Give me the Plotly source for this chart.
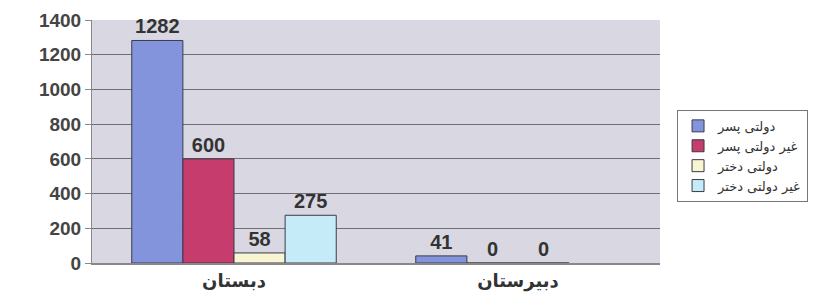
import plotly.graph_objects as go

categories = ["دبستان", "دبیرستان"]
series_names = ["دولتی پسر", "غیر دولتی پسر", "دولتی دختر", "غیر دولتی دختر"]
dolati_pesar = [1282, 41]
gheir_dolati_pesar = [600, 0]
dolati_dokhtar = [58, 0]
gheir_dolati_dokhtar = [275, None]
y_ticks = [0, 200, 400, 600, 800, 1000, 1200, 1400]

colors = ["#8394dc", "#c63c6c", "#f7f5d2", "#c6ebf8"]
values = [dolati_pesar, gheir_dolati_pesar, dolati_dokhtar, gheir_dolati_dokhtar]

fig = go.Figure()
for name, vals, col in zip(series_names, values, colors):
    fig.add_trace(go.Bar(
        x=categories, y=vals, name=name,
        marker=dict(color=col, line=dict(color="#3a3a4a", width=1)),
        text=[("" if v is None else str(v)) for v in vals],
        textposition="outside",
        textfont=dict(family="Liberation Sans", size=20, color="#333333", weight="bold"),
        cliponaxis=False,
    ))

fig.update_layout(
    width=828, height=288,
    margin=dict(l=84, r=176, t=12, b=33, autoexpand=False),
    paper_bgcolor="white",
    plot_bgcolor="#d9d7e2",
    barmode="group",
    bargap=0.28,
    bargroupgap=0,
    showlegend=True,
    legend=dict(
        x=1.03, y=0.63, xanchor="left", yanchor="top",
        bgcolor="white", bordercolor="#777777", borderwidth=1,
        font=dict(family="DejaVu Sans", size=13, color="#333333"),
        itemwidth=30, tracegroupgap=0,
    ),
    xaxis=dict(
        showgrid=False, showline=True, linecolor="#888888", linewidth=2,
        tickfont=dict(family="DejaVu Sans", size=18, color="#333333", weight="bold"),
        ticks="", automargin=False,
    ),
    yaxis=dict(
        range=[0, 1400], tickvals=y_ticks,
        showgrid=True, gridcolor="#6f6f78", gridwidth=1,
        showline=True, linecolor="#888888", linewidth=1,
        ticks="outside", ticklen=6, tickcolor="#888888",
        tickfont=dict(family="Liberation Sans", size=19, color="#444444", weight="bold"),
        ticklabeloverflow="allow",
        zeroline=False, automargin=False,
    ),
)

fig.write_html("out.html")
